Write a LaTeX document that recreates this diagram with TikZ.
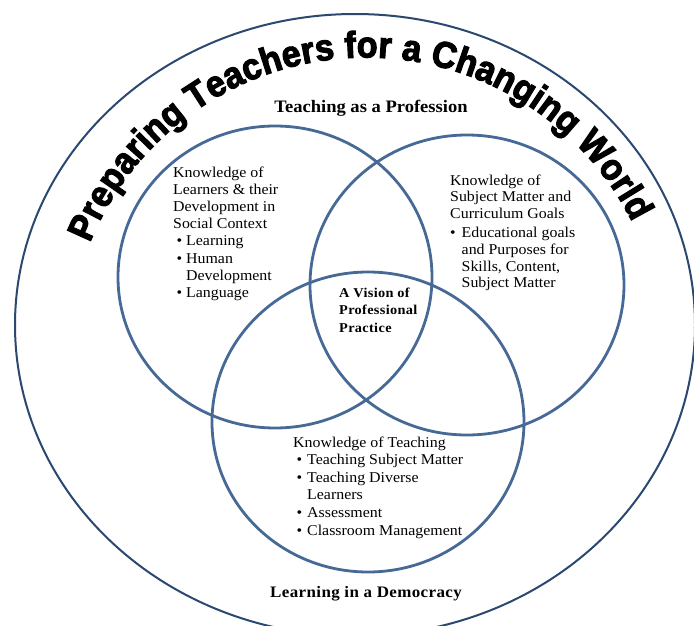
\documentclass[tikz,border=0pt]{standalone}
\usepackage{fontspec}
\setmainfont{Liberation Serif}[FakeStretch=1.06]
\newfontfamily\titlefont{Liberation Sans}[FakeStretch=0.92,BoldFeatures={FakeBold=3}]
\usetikzlibrary{decorations.text}
\definecolor{venn}{HTML}{466996}
\definecolor{rim}{HTML}{2A4870}
\newcommand\bodyfont{\fontsize{15}{17.2}\selectfont}
\newcommand\titlestyle{\titlefont\bfseries\fontsize{37}{37}\selectfont}
\newcommand\bulA{\makebox[13pt][l]{\hspace*{3.5pt}\textbullet}}
\newcommand\indA{\hspace*{13pt}}
\newcommand\bulB{\makebox[11.5pt][l]{\textbullet}}
\newcommand\indB{\hspace*{11.5pt}}
\newcommand\bulC{\makebox[14pt][l]{\hspace*{3.5pt}\textbullet}}
\newcommand\indC{\hspace*{14pt}}
\begin{document}
\begin{tikzpicture}[x=1pt,y=-1pt,
  vennline/.style={draw=venn,line width=2.8pt},
  rimline/.style={draw=rim,line width=2pt},
  txt/.style={inner sep=0pt,anchor=base west,text=black},
  heading/.style={inner sep=0pt,anchor=base,text=black}]
\useasboundingbox (0,0) rectangle (694,626);
\fill[white] (0,0) rectangle (694,626);
% outer ring
\draw[rimline] (355,325) ellipse[x radius=340,y radius=311];
% Venn circles
\draw[vennline] (275,277) ellipse[x radius=157,y radius=151];
\draw[vennline] (467,285) ellipse[x radius=157,y radius=150];
\draw[vennline] (368,422) ellipse[x radius=156,y radius=150];
% arched title
\path[decorate,decoration={text along path,
   text={|\titlestyle|Preparing Teachers for a Changing World},
   text align=fit to path}]
  (365.8,355.5) ++(202.2:298) arc[start angle=202.2,end angle=333.4,radius=298];
% labels
\node[heading] (prof) at (371,113) {\fontsize{17.5}{20}\selectfont\bfseries Teaching as a Profession};
\node[heading] (demo) at (366,597) {\fontsize{16}{20}\selectfont\bfseries\addfontfeatures{LetterSpace=2.5}Learning in a Democracy};
\node[txt] (learners) at (173,177) {\bodyfont
  \begin{tabular}[t]{@{}l@{}}
  Knowledge of\\
  Learners \& their\\
  Development in\\
  Social Context\\
  \bulA Learning\\
  \bulA Human\\
  \indA Development\\
  \bulA Language
  \end{tabular}};
\node[txt] (subject) at (450,185) {\fontsize{15}{16.8}\selectfont
  \begin{tabular}[t]{@{}l@{}}
  Knowledge of\\
  Subject Matter and\\
  Curriculum Goals\\[2pt]
  \bulB Educational goals\\
  \indB and Purposes for\\
  \indB Skills, Content,\\
  \indB Subject Matter
  \end{tabular}};
\node[txt] (teaching) at (293,447) {\fontsize{15}{17.6}\selectfont
  \begin{tabular}[t]{@{}l@{}}
  Knowledge of Teaching\\
  \bulC Teaching Subject Matter\\
  \bulC Teaching Diverse\\
  \indC Learners\\
  \bulC Assessment\\
  \bulC Classroom Management
  \end{tabular}};
\node[txt] (vision) at (339,297) {\fontsize{13.5}{17.5}\selectfont\bfseries\addfontfeatures{LetterSpace=2.5}
  \begin{tabular}[t]{@{}l@{}}
  A Vision of\\
  Professional\\
  Practice
  \end{tabular}};
\end{tikzpicture}
\end{document}
